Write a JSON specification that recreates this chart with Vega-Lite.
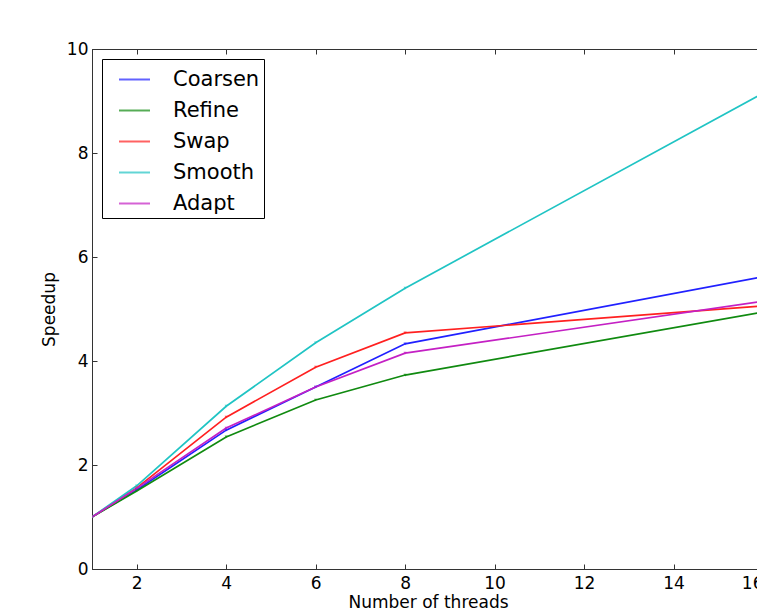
{
  "$schema": "https://vega.github.io/schema/vega-lite/v6.json",
  "autosize": "none",
  "padding": {"left": 92, "top": 49, "right": 0, "bottom": 44},
  "width": 666,
  "height": 520,
  "background": "white",
  "config": {
    "view": {"stroke": "#333", "strokeWidth": 1},
    "font": "DejaVu Sans",
    "axis": {
      "domainColor": "#333",
      "tickColor": "#333",
      "grid": false,
      "labelFont": "DejaVu Sans",
      "titleFont": "DejaVu Sans",
      "labelFontSize": 17,
      "titleFontSize": 17,
      "titleFontWeight": "normal",
      "labelColor": "#000",
      "titleColor": "#000",
      "tickSize": -5
    }
  },
  "data": {"values": [
    {"threads": 1, "speedup": 1.0, "kernel": "Coarsen"},
    {"threads": 2, "speedup": 1.52, "kernel": "Coarsen"},
    {"threads": 4, "speedup": 2.67, "kernel": "Coarsen"},
    {"threads": 6, "speedup": 3.5, "kernel": "Coarsen"},
    {"threads": 8, "speedup": 4.33, "kernel": "Coarsen"},
    {"threads": 16, "speedup": 5.62, "kernel": "Coarsen"},
    {"threads": 1, "speedup": 1.0, "kernel": "Refine"},
    {"threads": 2, "speedup": 1.5, "kernel": "Refine"},
    {"threads": 4, "speedup": 2.54, "kernel": "Refine"},
    {"threads": 6, "speedup": 3.25, "kernel": "Refine"},
    {"threads": 8, "speedup": 3.73, "kernel": "Refine"},
    {"threads": 16, "speedup": 4.94, "kernel": "Refine"},
    {"threads": 1, "speedup": 1.0, "kernel": "Swap"},
    {"threads": 2, "speedup": 1.56, "kernel": "Swap"},
    {"threads": 4, "speedup": 2.92, "kernel": "Swap"},
    {"threads": 6, "speedup": 3.88, "kernel": "Swap"},
    {"threads": 8, "speedup": 4.54, "kernel": "Swap"},
    {"threads": 16, "speedup": 5.06, "kernel": "Swap"},
    {"threads": 1, "speedup": 1.0, "kernel": "Smooth"},
    {"threads": 2, "speedup": 1.6, "kernel": "Smooth"},
    {"threads": 4, "speedup": 3.13, "kernel": "Smooth"},
    {"threads": 6, "speedup": 4.35, "kernel": "Smooth"},
    {"threads": 8, "speedup": 5.4, "kernel": "Smooth"},
    {"threads": 16, "speedup": 9.15, "kernel": "Smooth"},
    {"threads": 1, "speedup": 1.0, "kernel": "Adapt"},
    {"threads": 2, "speedup": 1.55, "kernel": "Adapt"},
    {"threads": 4, "speedup": 2.71, "kernel": "Adapt"},
    {"threads": 6, "speedup": 3.5, "kernel": "Adapt"},
    {"threads": 8, "speedup": 4.15, "kernel": "Adapt"},
    {"threads": 16, "speedup": 5.15, "kernel": "Adapt"}
  ]},
  "resolve": {"axis": {"x": "independent"}},
  "layer": [
    {
      "mark": {"type": "line", "strokeWidth": 1.7, "clip": true},
      "encoding": {
        "x": {
          "field": "threads", "type": "quantitative",
          "scale": {"domain": [1, 16], "range": [0, 671], "nice": false, "zero": false},
          "axis": {"orient": "bottom", "values": [2, 4, 6, 8, 10, 12, 14, 16], "title": "Number of threads", "labelPadding": 11, "titlePadding": 3, "titleX": 336}
        },
        "y": {
          "field": "speedup", "type": "quantitative",
          "scale": {"domain": [0, 10], "nice": false},
          "axis": {"values": [0, 2, 4, 6, 8, 10], "title": "Speedup", "labelPadding": 9, "titlePadding": 8}
        },
        "color": {
          "field": "kernel", "type": "nominal",
          "scale": {"domain": ["Coarsen", "Refine", "Swap", "Smooth", "Adapt"], "range": ["#2020ff", "#108a10", "#ff2020", "#20c4c4", "#c420c4"]},
          "legend": {
            "title": null,
            "orient": "none",
            "legendX": 10,
            "legendY": 10,
            "symbolType": "stroke",
            "symbolSize": 961,
            "symbolStrokeWidth": 2,
            "symbolOpacity": 0.7,
            "symbolOffset": 12,
            "labelFont": "DejaVu Sans",
            "labelFontSize": 21,
            "labelColor": "#000",
            "labelOffset": 22,
            "rowPadding": 4,
            "padding": 4,
            "strokeColor": "#000",
            "fillColor": "white"
          }
        }
      }
    },
    {
      "mark": {"type": "point", "shape": "triangle-down", "size": 10, "filled": true, "clip": true},
      "encoding": {
        "x": {"field": "threads", "type": "quantitative", "axis": {"orient": "top", "values": [2, 4, 6, 8, 10, 12, 14, 16], "labels": false, "title": null}},
        "y": {"field": "speedup", "type": "quantitative"},
        "color": {"field": "kernel", "type": "nominal", "legend": null}
      }
    }
  ]
}
